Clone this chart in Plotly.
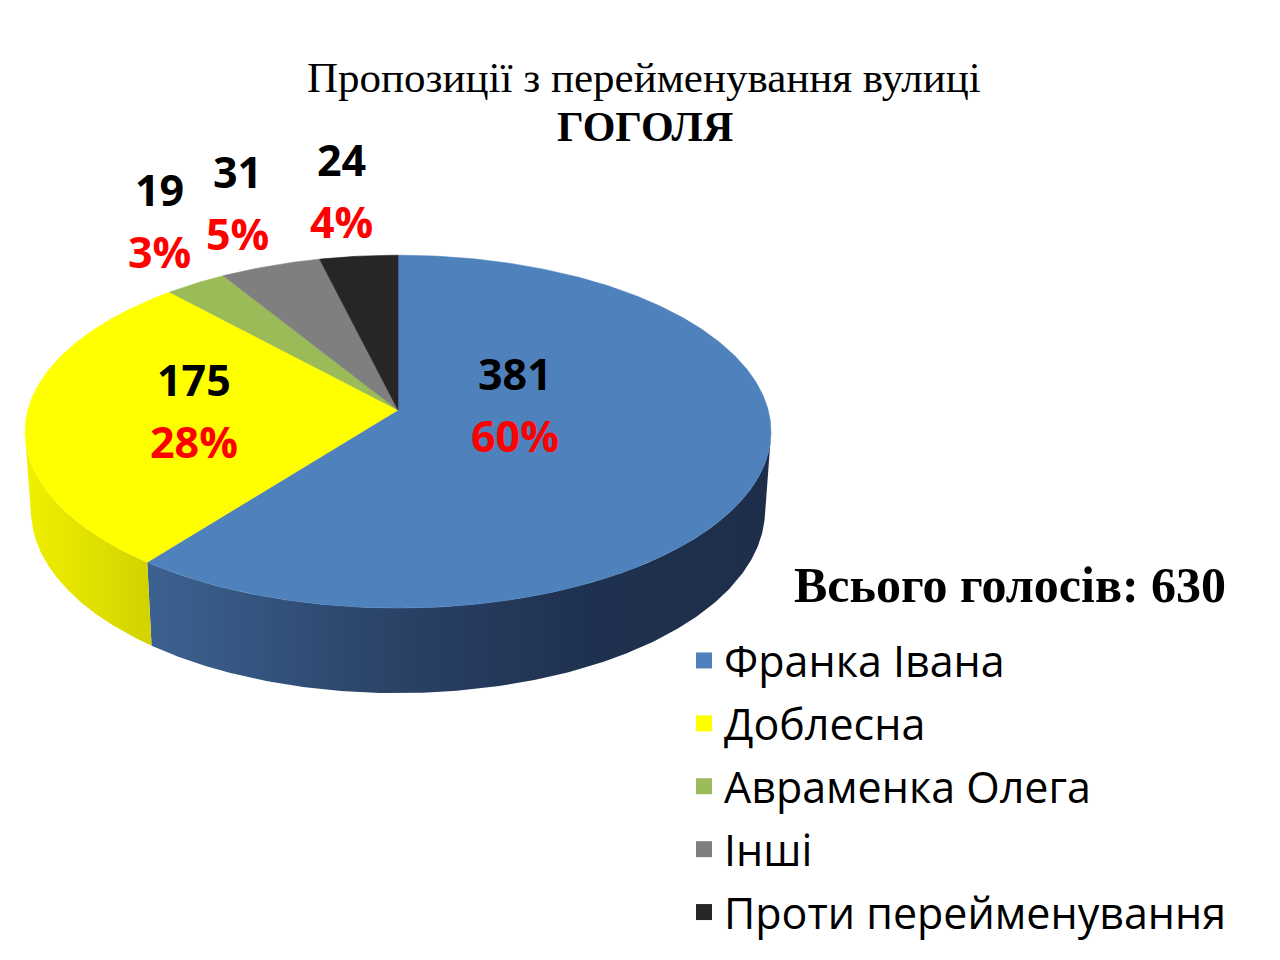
import numpy as np
import plotly.graph_objects as go

# ---------------- data ----------------
categories = ["Франка Івана", "Доблесна", "Авраменка Олега", "Інші", "Проти перейменування"]
votes = [381, 175, 19, 31, 24]
total_votes = 630
title_line1 = "Пропозиції з перейменування вулиці"
title_line2 = "ГОГОЛЯ"
total_label = "Всього голосів: " + str(total_votes)

# ---------------- styles ----------------
top_colors = ["#4F81BD", "#FFFF00", "#9BBB59", "#7F7F7F", "#262626"]
side_scales = [
    [[0, "#4A74AA"], [0.17, "#3C6190"], [0.5, "#2A4266"], [0.75, "#1F3150"], [1, "#1E2E4A"]],
    [[0, "#F0F000"], [0.17, "#D2D200"], [1, "#C0C000"]],
    [[0, "#7C9647"], [1, "#7C9647"]],
    [[0, "#666666"], [1, "#666666"]],
    [[0, "#1E1E1E"], [1, "#1E1E1E"]],
]
label_radius = [0.33, 0.55, 1.2, 1.3, 1.5]
label_lift = [24, 3, 40, 26, 1]
LABEL_FONT = "Open Sans"
SERIF = "Liberation Serif"

# page offset (default body margin of the html page)
OFF = 8
W, H = 1280, 960


def paper_x(px):
    return (px - OFF) / W


def paper_y(py):
    return 1 - (py - OFF) / H


# 3D perspective camera (page pixel space)
TILT = np.radians(28)
DIST = 7.2
FOCAL = 2665
CX, CY = 398, 410
DEPTH = 0.242


def project(theta, r, z):
    X = r * np.sin(theta)
    Y = r * np.cos(theta)
    v = Y * np.sin(TILT) + z * np.cos(TILT)
    w = DIST + Y * np.cos(TILT) - z * np.sin(TILT)
    return CX + FOCAL * X / w, CY - FOCAL * v / w


vals = np.array(votes, dtype=float)
frac = vals / vals.sum()
ends = np.cumsum(frac) * 2 * np.pi
starts = ends - frac * 2 * np.pi
percents = [f"{int(round(f * 100))}%" for f in frac]

# visible arc of the side wall
cam_y = -DIST * np.cos(TILT)
vis_lo = np.arccos(1.0 / cam_y)
vis_hi = 2 * np.pi - vis_lo

rim = np.linspace(0, 2 * np.pi, 721)
rim_x, _ = project(rim, 1.0, 0.0)
gx0, gx1 = float(rim_x.min()), float(rim_x.max())

fig = go.Figure()

# side walls
for i in range(len(votes)):
    a0 = max(starts[i], vis_lo)
    a1 = min(ends[i], vis_hi)
    if a1 <= a0:
        continue
    t = np.linspace(a0, a1, 200)
    xt, yt = project(t, 1.0, 0.0)
    xb, yb = project(t[::-1], 1.0, -DEPTH)
    xs = np.concatenate([xt, xb, xt[:1]])
    ys = np.concatenate([yt, yb, yt[:1]])
    fig.add_trace(go.Scatter(
        x=xs, y=ys, mode="lines", fill="toself",
        line=dict(width=0), fillcolor=top_colors[i],
        fillgradient=dict(type="horizontal", colorscale=side_scales[i], start=gx0, stop=gx1),
        hoverinfo="skip", showlegend=False))

# top faces
for i in range(len(votes)):
    n = max(int(frac[i] * 720), 8)
    t = np.linspace(starts[i], ends[i], n)
    xr, yr = project(t, 1.0, 0.0)
    xc, yc = project(0.0, 0.0, 0.0)
    xs = np.concatenate([[xc], xr, [xc]])
    ys = np.concatenate([[yc], yr, [yc]])
    fig.add_trace(go.Scatter(
        x=xs, y=ys, mode="lines", fill="toself",
        line=dict(width=0.6, color=top_colors[i]), fillcolor=top_colors[i],
        hoverinfo="skip", showlegend=False))

# legend entries
for i, name in enumerate(categories):
    fig.add_trace(go.Scatter(
        x=[None], y=[None], mode="markers", name=name,
        marker=dict(symbol="square", size=16, color=top_colors[i]),
        legendgroup=f"g{i}"))

# data labels
annotations = []
for i in range(len(votes)):
    mid = (starts[i] + ends[i]) / 2
    lx, ly = project(mid, label_radius[i], 0.0)
    ly = ly - label_lift[i]
    annotations.append(dict(x=lx, y=ly, xref="x", yref="y", text=f"<b>{votes[i]}</b>",
                            showarrow=False, yshift=31, xanchor="center", yanchor="middle",
                            font=dict(family=LABEL_FONT, size=43, color="#000000")))
    annotations.append(dict(x=lx, y=ly, xref="x", yref="y", text=f"<b>{percents[i]}</b>",
                            showarrow=False, yshift=-31, xanchor="center", yanchor="middle",
                            font=dict(family=LABEL_FONT, size=43, color="#FF0000")))

annotations.append(dict(x=paper_x(644), y=paper_y(77), xref="paper", yref="paper", text=title_line1,
                        xanchor="center", yanchor="middle", showarrow=False,
                        font=dict(family=SERIF, size=43, color="#000000")))
annotations.append(dict(x=paper_x(645), y=paper_y(127), xref="paper", yref="paper",
                        text=f"<b>{title_line2}</b>", xanchor="center", yanchor="middle", showarrow=False,
                        font=dict(family=SERIF, size=42, color="#000000")))
annotations.append(dict(x=paper_x(1228), y=paper_y(585), xref="paper", yref="paper",
                        text=f"<b>{total_label}</b>", xanchor="right", yanchor="middle", showarrow=False,
                        font=dict(family=SERIF, size=50, color="#000000")))

fig.update_layout(
    width=W, height=H,
    margin=dict(l=0, r=0, t=0, b=0, pad=0),
    paper_bgcolor="white", plot_bgcolor="white",
    xaxis=dict(range=[OFF, OFF + W], visible=False, fixedrange=True),
    yaxis=dict(range=[OFF + H, OFF], visible=False, fixedrange=True),
    annotations=annotations,
    showlegend=True,
    legend=dict(x=paper_x(684), y=paper_y(626), xanchor="left", yanchor="top",
                font=dict(family=LABEL_FONT, size=43, color="#000000"),
                tracegroupgap=4, bgcolor="rgba(0,0,0,0)", itemclick=False, itemdoubleclick=False),
    hovermode=False,
)

fig.write_html("out.html")
